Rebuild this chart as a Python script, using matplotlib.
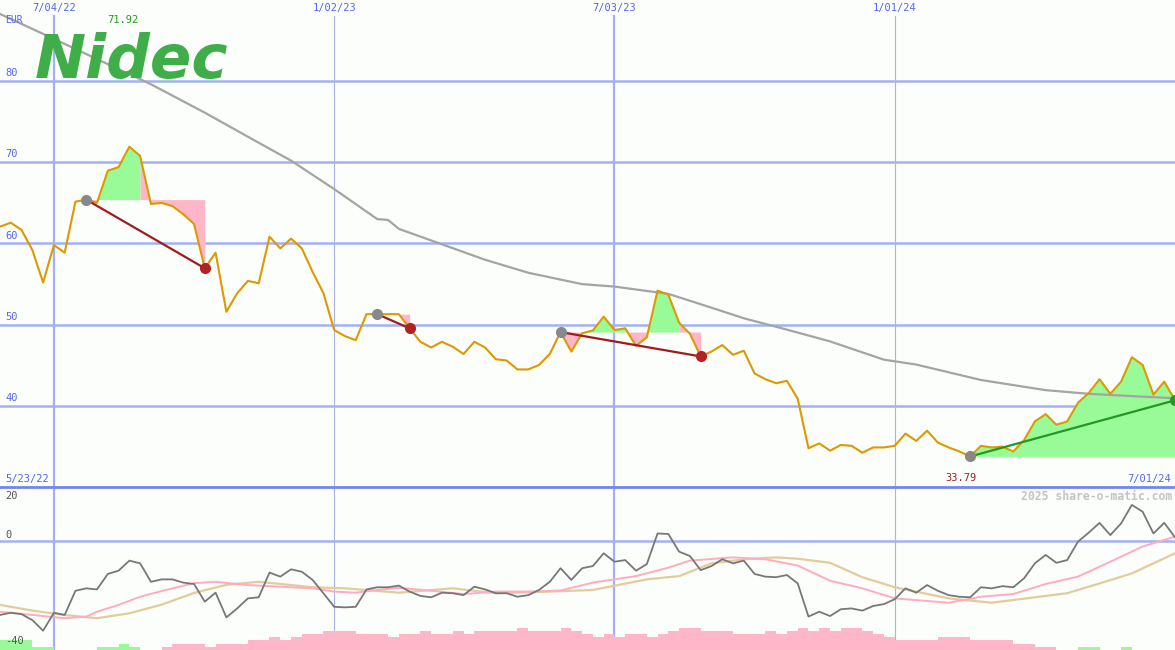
import numpy as np
import pandas as pd
import matplotlib
matplotlib.use('Agg')
import matplotlib.pyplot as plt
import matplotlib.dates as mdates

# weekly closes, 30 May 2022 .. 1 Jul 2024
weeks = pd.date_range('2022-05-30', periods=110, freq='7D')

price = [62.07, 62.56, 61.66, 59.2, 55.2, 59.8, 58.87, 65.15, 65.4, 65.0,
         68.96, 69.4, 71.92, 70.77, 64.86, 65.0, 64.6, 63.6, 62.4, 56.95,
         58.87, 51.6, 53.87, 55.4, 55.1, 60.84, 59.4, 60.6, 59.4, 56.5,
         53.9, 49.35, 48.6, 48.1, 51.3, 51.3, 51.3, 51.3, 49.56, 47.9,
         47.2, 47.9, 47.3, 46.4, 47.9, 47.2, 45.75, 45.6, 44.5, 44.5,
         45.05, 46.4, 49.1, 46.7, 48.95, 49.3, 51.0, 49.35, 49.56, 47.4,
         48.45, 54.2, 53.7, 50.25, 48.9, 46.1, 46.7, 47.5, 46.3, 46.8,
         44.0, 43.3, 42.8, 43.1, 40.9, 34.8, 35.4, 34.5, 35.2, 35.1,
         34.25, 34.9, 34.9, 35.1, 36.6, 35.7, 36.96, 35.5, 34.9, 34.4,
         33.79, 35.1, 34.9, 35.0, 34.4, 35.8, 38.1, 39.0, 37.7, 38.1,
         40.4, 41.6, 43.3, 41.5, 43.0, 46.0, 45.05, 41.4, 43.0, 40.7]

# long moving average (week number, value)
ma_weeks = [1, 5, 10, 15, 20, 25, 28, 32, 36, 37, 38, 46, 50, 55, 58, 63, 67,
            70, 74, 78, 83, 86, 92, 98, 102, 107, 110]
ma_vals = [88.25, 85.8, 82.7, 79.6, 76.1, 72.4, 70.2, 66.7, 63.0, 62.9, 61.8,
           58.0, 56.4, 55.0, 54.7, 53.8, 52.1, 50.8, 49.4, 47.95, 45.7, 45.1,
           43.2, 41.95, 41.5, 41.15, 40.95]

# trend signals: (start week, end week)
signals = [(9, 20), (36, 39), (53, 66), (91, 110)]

osc = [-27.1, -26.3, -26.8, -29.0, -32.9, -26.3, -27.1, -18.2, -17.3, -17.7,
       -12.0, -10.8, -7.1, -8.1, -14.9, -14.0, -14.0, -15.2, -15.7, -22.2,
       -18.9, -28.0, -24.7, -21.0, -20.6, -11.5, -13.0, -10.3, -11.2, -14.2,
       -19.1, -24.1, -24.3, -24.1, -17.7, -16.9, -16.9, -16.3, -18.5, -20.1,
       -20.6, -18.9, -19.1, -19.8, -16.7, -17.7, -19.1, -19.1, -20.4, -19.8,
       -17.9, -14.9, -9.9, -14.2, -9.9, -9.1, -4.4, -7.5, -6.9, -10.8,
       -8.4, 2.9, 2.7, -3.8, -5.4, -10.6, -9.1, -6.6, -8.1, -7.1,
       -12.0, -13.0, -13.2, -12.4, -15.5, -27.7, -25.9, -27.5, -25.0, -24.7,
       -25.5, -23.8, -23.1, -21.3, -17.3, -18.9, -16.1, -18.2, -19.8, -20.4,
       -20.6, -16.9, -17.3, -16.5, -16.9, -13.6, -8.1, -5.0, -7.9, -6.9,
       -0.1, 3.2, 6.8, 2.3, 6.6, 13.4, 10.9, 2.9, 6.8, 1.5]

fast_weeks = [1, 4, 7, 9, 10, 12, 14, 16, 19, 21, 24, 27, 30, 32, 34, 36, 38,
              41, 44, 47, 50, 53, 56, 60, 63, 65, 69, 72, 75, 78, 81, 84, 89,
              92, 95, 98, 101, 104, 107, 110]
fast_vals = [-25.9, -27.1, -28.3, -27.7, -25.9, -23.4, -20.4, -18.3, -15.4,
             -14.9, -16.1, -16.7, -17.3, -18.5, -18.9, -17.9, -17.1, -18.2,
             -19.4, -18.5, -18.5, -18.1, -15.2, -12.8, -9.7, -7.1, -5.9, -6.6,
             -8.9, -14.5, -17.3, -21.0, -22.6, -20.4, -19.4, -15.7, -13.0,
             -7.5, -1.9, 1.7]

slow_weeks = [1, 4, 7, 10, 13, 16, 19, 22, 25, 27, 30, 33, 38, 43, 47, 52, 56,
              61, 64, 67, 70, 73, 75, 78, 81, 84, 89, 93, 97, 100, 103, 106, 110]
slow_vals = [-23.4, -25.5, -27.1, -28.3, -26.5, -23.3, -19.0, -16.0, -14.9,
             -15.7, -16.9, -17.3, -18.9, -17.3, -19.1, -18.5, -17.9, -14.0,
             -12.8, -8.1, -6.6, -5.9, -6.4, -7.9, -13.2, -16.9, -21.0, -22.6,
             -20.6, -19.1, -15.5, -11.8, -4.4]

# strength bars (+ green / - pink)
bar_levels = [3, 3, 3, 1, 1, 0, 0, 0, 0, 1, 1, 2, 1, 0, 0,
              -1, -2, -2, -2, -1, -2, -2, -2, -3, -3, -4, -3, -4, -5, -5,
              -6, -6, -6, -5, -5, -5, -4, -5, -5, -6, -5, -5, -6, -5, -6,
              -6, -6, -6, -7, -6, -6, -6, -7, -6, -5, -4, -5, -4, -5, -5,
              -4, -5, -6, -7, -7, -6, -6, -6, -5, -5, -5, -6, -5, -6, -7,
              -6, -7, -6, -7, -7, -6, -5, -4, -3, -3, -3, -3, -4, -4, -4,
              -3, -3, -3, -3, -2, -2, -1, -1, 0, 0, 1, 1, 0, 0, 1,
              0, 0, 0, 0, 0]

price_levels = [40, 50, 60, 70, 80]
osc_levels = [20, 0, -40]
mark_dates = ['2022-07-04', '2023-01-02', '2023-07-03', '2024-01-01']
mark_labels = ['7/04/22', '1/02/23', '7/03/23', '1/01/24']
mark_thick = [True, False, True, False]

BG = '#fbfefb'
BLUE_TXT = '#5566ee'
GRID = '#a3b1f2'
GREEN_FILL = '#98fb98'
PINK_FILL = '#ffb6c8'
FONT = 'DejaVu Sans Mono'

x = mdates.date2num(weeks)
price = np.array(price)

W, H, SPLIT = 1175, 650, 487
fig = plt.figure(figsize=(W / 100, H / 100), dpi=100)
fig.patch.set_facecolor(BG)
ax = fig.add_axes([0, (H - SPLIT) / H, 1, SPLIT / H])
ax2 = fig.add_axes([0, 0, 1, (H - SPLIT) / H])
for a in (ax, ax2):
    a.set_facecolor(BG)
    a.set_axis_off()
    a.set_xlim(x[0], x[-1])
ax.set_ylim(30.03, 89.97)
ax2.set_ylim(-40, 20)

# grid
for lv in price_levels:
    ax.axhline(lv, color=GRID, lw=1.8, zorder=1)
    ax.text(5 / W, lv + 0.35, str(lv), transform=ax.get_yaxis_transform(),
            color=BLUE_TXT, fontsize=7.5, family=FONT, va='bottom')
ax2.axhline(0, color=GRID, lw=1.8, zorder=1)
ax2.axhline(20, color='#7585ee', lw=2, zorder=6, clip_on=False)
for d, lab, thick in zip(mark_dates, mark_labels, mark_thick):
    xd = mdates.date2num(pd.Timestamp(d))
    col, lw = (GRID, 1.6) if thick else ('#aab4e6', 0.8)
    ax.axvline(xd, ymax=(SPLIT - 16) / SPLIT, color=col, lw=lw, zorder=1)
    ax2.axvline(xd, color=col, lw=lw, zorder=1)
    ax.text(xd, (SPLIT - 8) / SPLIT, lab, transform=ax.get_xaxis_transform(),
            ha='center', va='center', color=BLUE_TXT, fontsize=7.5, family=FONT)

# signal fills and trend lines
for s, e in signals:
    lvl = price[s - 1]
    i = s - 1
    while i < e - 1:
        up = price[i + 1] >= lvl
        j = i
        while j < e - 1 and (price[j + 1] >= lvl) == up:
            j += 1
        ax.fill_between(x[i:j + 1], price[i:j + 1], lvl, lw=0,
                        color=GREEN_FILL if up else PINK_FILL, zorder=2)
        i = j
    rising = price[e - 1] > lvl
    ax.plot([x[s - 1], x[e - 1]], [price[s - 1], price[e - 1]],
            color='#229922' if rising else '#a01c1c', lw=1.6, zorder=5)
    ax.plot(x[s - 1], price[s - 1], 'o', color='#888888', ms=7, zorder=6)
    ax.plot(x[e - 1], price[e - 1], 'o', color='#229922' if rising else '#b22222',
            ms=7, zorder=6)

ax.plot(x[np.array(ma_weeks) - 1], ma_vals, color='#a4a4a4', lw=1.6, zorder=3)
ax.plot(x, price, color='#dd9900', lw=1.5, zorder=4)

# texts
ax.text(5 / W, (SPLIT - 20) / SPLIT, 'EUR', transform=ax.transAxes,
        color=BLUE_TXT, fontsize=7, family=FONT, va='center')
imax = int(np.argmax(price))
ax.text(x[imax] - 4, 87.5, f'{price[imax]:.2f}', ha='center', va='center',
        color='#229922', fontsize=7.5, family=FONT)
imin = int(np.argmin(price))
ax.text(x[imin] - 6, 31.1, f'{price[imin]:.2f}', ha='center', va='center',
        color='#992222', fontsize=7.5, family=FONT)
ax.text(5 / W, 8 / SPLIT, '5/23/22', transform=ax.transAxes, va='center',
        color=BLUE_TXT, fontsize=7.5, family=FONT)
ax.text(1 - 4 / W, 8 / SPLIT, weeks[-1].strftime('%-m/%d/%y'),
        transform=ax.transAxes, va='center', ha='right',
        color=BLUE_TXT, fontsize=7.5, family=FONT)
fig.text(35 / W, 1 - 78 / H, 'Nidec', color='#3fae49', fontsize=44,
         weight='bold', style='italic', family='DejaVu Sans', va='baseline')

# oscillator panel
ax2.bar(x, np.abs(bar_levels) * 1.18, width=7, bottom=-40, align='edge',
        color=[GREEN_FILL if b > 0 else PINK_FILL for b in bar_levels],
        lw=0, zorder=2)
ax2.plot(x[np.array(slow_weeks) - 1], slow_vals, color='#e3cc9c', lw=1.6, zorder=3)
ax2.plot(x[np.array(fast_weeks) - 1], fast_vals, color='#ffacc0', lw=1.4, zorder=3)
ax2.plot(x, osc, color='#777777', lw=1.3, zorder=4)
for lv, ypx in zip(osc_levels, [496, 535, 641]):
    ax2.text(5 / W, (H - ypx) / (H - SPLIT), str(lv), transform=ax2.transAxes,
             va='center', color='#555555', fontsize=7.5, family=FONT)
ax2.text(1 - 3 / W, (H - 496) / (H - SPLIT), '2025 share-o-matic.com',
         transform=ax2.transAxes, ha='right', va='center', color='#c4c4c4',
         fontsize=8.3, weight='bold', family=FONT)

fig.savefig('out.png', dpi=100, facecolor=BG)
